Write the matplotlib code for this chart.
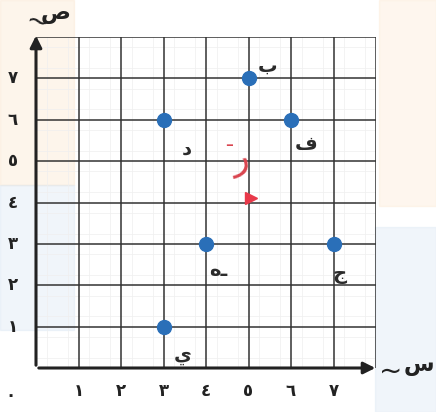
import matplotlib.pyplot as plt
from matplotlib.patches import Rectangle

# points on the grid
names = ["ي", "هـ", "د", "ب", "ف", "ج"]
xs = [3, 4, 3, 5, 6, 7]
ys = [1, 3, 6, 7, 6, 3]
label_dx = [0.45, 0.3, 0.55, 0.45, 0.35, 0.15]
label_dy = [-0.7, -0.65, -0.7, 0.3, -0.6, -0.75]

ticks = [1, 2, 3, 4, 5, 6, 7]
tick_labels = ["١", "٢", "٣", "٤", "٥", "٦", "٧"]

plt.rcParams['font.family'] = ['DejaVu Sans']

fig = plt.figure(figsize=(4.36, 4.12), dpi=100)
ax = fig.add_axes([36 / 436, 44 / 412, 340 / 436, 331 / 412])
ax.set_xlim(0, 8)
ax.set_ylim(0, 8)

# faint watermark blotches behind the grid
fig.patches.append(Rectangle((0.0, 0.55), 0.17, 0.45, transform=fig.transFigure,
                             color="#fbe3c8", alpha=0.35, zorder=-5))
fig.patches.append(Rectangle((0.0, 0.2), 0.17, 0.35, transform=fig.transFigure,
                             color="#d4e3f1", alpha=0.35, zorder=-5))
fig.patches.append(Rectangle((0.87, 0.5), 0.13, 0.5, transform=fig.transFigure,
                             color="#fde7cf", alpha=0.35, zorder=-5))
fig.patches.append(Rectangle((0.86, 0.0), 0.14, 0.45, transform=fig.transFigure,
                             color="#d6e5f3", alpha=0.35, zorder=-5))

# grid
for k in range(1, 9):
    ax.axvline(k, color="#333333", lw=1.1, zorder=1)
    ax.axhline(k, color="#333333", lw=1.1, zorder=1)
for k in range(16):
    ax.axvline(k / 2 + 0.25, color="#efefef", lw=0.5, zorder=0)
    ax.axhline(k / 2 + 0.25, color="#efefef", lw=0.5, zorder=0)

for s in ax.spines.values():
    s.set_visible(False)
ax.set_xticks([])
ax.set_yticks([])
ax.patch.set_alpha(0)

# axes with arrows
ax.annotate("", xy=(8.05, 0), xytext=(0, 0),
            arrowprops=dict(arrowstyle="-|>,head_length=0.7,head_width=0.35", color="#222222", lw=2.2),
            annotation_clip=False)
ax.annotate("", xy=(0, 8.1), xytext=(0, 0),
            arrowprops=dict(arrowstyle="-|>,head_length=0.7,head_width=0.35", color="#222222", lw=2.2),
            annotation_clip=False)

ax.text(0.45, 8.55, "ص", fontsize=16, ha="center", va="center", fontweight="bold", color="#222222")
ax.text(0.05, 8.35, "~", fontsize=20, ha="center", va="center", color="#222222", rotation=-15)
ax.text(9.0, 0.05, "س", fontsize=16, ha="center", va="center", fontweight="bold", color="#222222")
ax.text(8.35, -0.1, "~", fontsize=20, ha="center", va="center", color="#222222")

for t, lab in zip(ticks, tick_labels):
    ax.text(t, -0.55, lab, fontsize=12, ha="center", va="center", fontweight="bold", color="#222222")
    ax.text(-0.55, t, lab, fontsize=12, ha="center", va="center", fontweight="bold", color="#222222")
ax.text(-0.6, -0.65, "٠", fontsize=12, ha="center", va="center", fontweight="bold", color="#222222")

ax.plot(xs, ys, "o", color="#2a6fb8", markersize=10, zorder=5, clip_on=False)
for n, x, y, dx, dy in zip(names, xs, ys, label_dx, label_dy):
    ax.text(x + dx, y + dy, n, fontsize=14, ha="center", va="center", fontweight="bold", color="#2b2b2b")

# red handwritten mark
ax.text(4.8, 5.0, "ر", fontsize=26, ha="center", va="center", color="#d9454f", rotation=10)
ax.text(4.55, 5.5, "ـ", fontsize=14, ha="center", va="center", color="#d9454f")
ax.plot([5.05], [4.1], marker=">", color="#e8394a", markersize=8, zorder=6)

fig.savefig("out.png", dpi=100)
